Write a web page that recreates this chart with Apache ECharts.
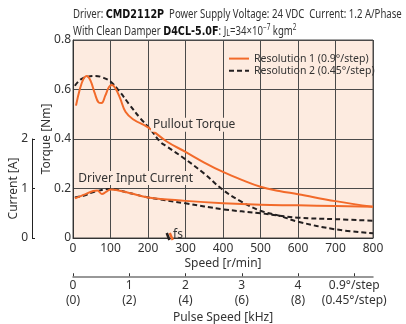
<!DOCTYPE html>
<html>
<head>
<meta charset="utf-8">
<script src="https://cdn.jsdelivr.net/npm/echarts@6/dist/echarts.min.js"></script>
<style>
  html, body { margin: 0; padding: 0; background: #fff; }
  #chart { width: 406px; height: 324px; }
</style>
</head>
<body>
<div id="chart"></div>
<script>
// speed [r/min], torque [Nm]
var torqueRes1 = [[8, 0.535], [18, 0.60], [28, 0.643], [37, 0.655], [47, 0.635], [58, 0.585], [68, 0.548], [76, 0.545],
  [86, 0.575], [96, 0.61], [104, 0.618], [113, 0.605], [125, 0.567], [140, 0.51], [160, 0.48], [200, 0.447],
  [250, 0.39], [300, 0.348], [350, 0.305], [400, 0.267], [450, 0.235], [500, 0.207], [550, 0.19], [600, 0.177],
  [700, 0.149], [800, 0.126]]
var torqueRes2 = [[5, 0.615], [20, 0.64], [40, 0.652], [60, 0.655], [80, 0.648], [100, 0.632], [125, 0.59], [150, 0.54],
  [180, 0.483], [206, 0.44], [233, 0.388], [250, 0.37], [300, 0.318], [350, 0.26], [400, 0.194], [450, 0.146],
  [500, 0.11], [550, 0.09], [600, 0.066], [700, 0.035], [800, 0.019]]
// speed [r/min], current [A]
var currentRes1 = [[5, 0.80], [28, 0.87], [54, 0.95], [65, 0.96], [77, 0.89], [88, 0.93], [100, 0.98], [150, 0.91],
  [200, 0.82], [300, 0.75], [400, 0.70], [500, 0.67], [600, 0.66], [700, 0.645], [800, 0.63]]
var currentRes2 = [[5, 0.82], [30, 0.86], [55, 0.93], [100, 0.99], [150, 0.91], [200, 0.82], [300, 0.70], [400, 0.58],
  [500, 0.50], [550, 0.45], [600, 0.41], [700, 0.38], [800, 0.35]]
// start frequency marks
var fsRes1 = [[258, 0.02], [266, -0.008]]
var fsRes2 = [[250, 0.02], [257, -0.008]]

var seriesNames = ['Resolution 1 (0.9°/step)', 'Resolution 2 (0.45°/step)']
var pulseTicks = [0, 1, 2, 3, 4, 5]

var FONT = '"Noto Sans", "Liberation Sans", sans-serif'
var ORANGE = '#f26a2a'
var BLACK = '#231f20'
var BG = '#fdebe0'
var GRIDLINE = '#4a4a4a'
var TXT = '#333'

function ts (extra) {
  return Object.assign({ fontFamily: FONT, fontWeight: 'normal', fontSize: 12, color: TXT }, extra || {})
}

// header text, squeezed horizontally like the condensed face of the original
var headerRich = {
  t: { fontFamily: FONT, fontSize: 12, fill: TXT, lineHeight: 17 },
  b: { fontFamily: '"DejaVu Sans"', fontWeight: 'bold', fontSize: 12, fill: '#111', lineHeight: 17 },
  sub: { fontFamily: FONT, fontSize: 9, fill: TXT, padding: [4, 0, 0, 0] },
  sup: { fontFamily: FONT, fontSize: 8, fill: TXT, padding: [0, 0, 7, 0] }
}

var chart = echarts.init(document.getElementById('chart'))

var option = {
  animation: false,
  graphic: [{
    type: 'text',
    x: 73,
    y: 6,
    scaleX: 0.8,
    silent: true,
    style: {
      text: '{t|Driver: }{b|CMD2112P}{t|  Power Supply Voltage: 24 VDC  Current: 1.2 A/Phase}\n' +
        '{t|With Clean Damper }{b|D4CL-5.0F}{t|: J}{sub|L}{t|=34×10}{sup|−7}{t| kgm}{sup|2}',
      rich: headerRich,
      fill: TXT,
      fontFamily: FONT,
      fontSize: 12,
      align: 'left',
      verticalAlign: 'top'
    }
  }],
  legend: {
    data: seriesNames,
    orient: 'vertical',
    left: 228,
    top: 53,
    padding: 0,
    itemWidth: 20,
    itemHeight: 14,
    itemGap: 1,
    itemStyle: { opacity: 0 },
    textStyle: ts({ fontSize: 10.5 })
  },
  grid: [
    { left: 73, right: 33, top: 40, bottom: 86, show: true, backgroundColor: BG, borderColor: GRIDLINE, borderWidth: 1 },
    { left: 32, top: 139, width: 1, height: 99 },
    { left: 73, right: 33, top: 276, height: 1 }
  ],
  xAxis: [{
    gridIndex: 0,
    type: 'value',
    min: 0,
    max: 800,
    interval: 100,
    axisLine: { show: true, lineStyle: { color: '#333' } },
    axisTick: { show: false },
    splitLine: { show: true, lineStyle: { color: GRIDLINE, width: 1 } },
    axisLabel: ts({ margin: 5 }),
    name: 'Speed [r/min]',
    nameLocation: 'middle',
    nameGap: 20,
    nameMoveOverlap: false,
    nameTextStyle: ts()
  }, {
    gridIndex: 1,
    type: 'value',
    show: false
  }, {
    gridIndex: 2,
    type: 'value',
    min: 0,
    max: 16 / 3,
    interval: 1,
    axisLine: { show: true, lineStyle: { color: '#777', width: 1.5 } },
    axisTick: { show: true, inside: true, length: 3, customValues: pulseTicks, lineStyle: { color: '#333' } },
    splitLine: { show: false },
    axisLabel: ts({
      margin: 2,
      lineHeight: 15,
      customValues: pulseTicks,
      formatter: function (v) {
        if (v >= 5) return '0.9°/step\n(0.45°/step)'
        return v + '\n(' + (v * 2) + ')'
      }
    }),
    name: 'Pulse Speed [kHz]',
    nameLocation: 'middle',
    nameGap: 35,
    nameMoveOverlap: false,
    nameTextStyle: ts()
  }],
  yAxis: [{
    gridIndex: 0,
    type: 'value',
    min: 0,
    max: 0.8,
    interval: 0.2,
    axisLine: { show: true, lineStyle: { color: '#333' } },
    axisTick: { show: false },
    splitLine: { show: true, lineStyle: { color: GRIDLINE, width: 1 } },
    axisLabel: ts({
      margin: 2,
      formatter: function (v) { return v === 0 ? '0' : v.toFixed(1) }
    }),
    name: 'Torque [Nm]',
    nameLocation: 'middle',
    nameGap: 20,
    nameMoveOverlap: false,
    nameTextStyle: ts()
  }, {
    // current scale inside the main plot (2 A = 0.4 Nm)
    gridIndex: 0,
    type: 'value',
    min: 0,
    max: 4,
    show: false
  }, {
    gridIndex: 1,
    type: 'value',
    min: 0,
    max: 2,
    interval: 1,
    axisLine: { show: true, lineStyle: { color: '#222', width: 1 } },
    axisTick: { show: true, inside: true, length: 3, lineStyle: { color: '#222' } },
    splitLine: { show: false },
    axisLabel: ts({ margin: 4 }),
    name: 'Current [A]',
    nameLocation: 'middle',
    nameGap: 12,
    nameMoveOverlap: false,
    nameTextStyle: ts()
  }, {
    gridIndex: 2,
    type: 'value',
    show: false
  }],
  series: [{
    name: seriesNames[0],
    type: 'line',
    smooth: 0.4,
    symbol: 'none',
    xAxisIndex: 0,
    yAxisIndex: 0,
    z: 4,
    lineStyle: { color: ORANGE, width: 2 },
    itemStyle: { color: ORANGE },
    data: torqueRes1,
    markPoint: {
      silent: true,
      symbol: 'rect',
      symbolSize: 1,
      itemStyle: { color: 'rgba(0,0,0,0)' },
      label: ts({
        show: true,
        position: 'inside',
        backgroundColor: BG,
        padding: [1, 2],
        formatter: function (p) { return p.name }
      }),
      data: [
        { name: 'Pullout Torque', coord: [323, 0.458] },
        { name: 'Driver Input Current', coord: [167, 0.242] },
        { name: 'fs', coord: [280, 0.013], label: { backgroundColor: 'transparent' } }
      ]
    }
  }, {
    name: seriesNames[1],
    type: 'line',
    smooth: 0.4,
    symbol: 'none',
    xAxisIndex: 0,
    yAxisIndex: 0,
    z: 3,
    lineStyle: { color: BLACK, width: 2, type: [5, 3] },
    itemStyle: { color: BLACK },
    data: torqueRes2
  }, {
    name: seriesNames[0],
    type: 'line',
    smooth: 0.4,
    symbol: 'none',
    xAxisIndex: 0,
    yAxisIndex: 1,
    z: 4,
    lineStyle: { color: ORANGE, width: 2 },
    data: currentRes1
  }, {
    name: seriesNames[1],
    type: 'line',
    smooth: 0.4,
    symbol: 'none',
    xAxisIndex: 0,
    yAxisIndex: 1,
    z: 3,
    lineStyle: { color: BLACK, width: 2, type: [5, 3] },
    data: currentRes2
  }, {
    name: 'fs1',
    type: 'line',
    symbol: 'none',
    clip: false,
    xAxisIndex: 0,
    yAxisIndex: 0,
    lineStyle: { color: ORANGE, width: 2.5 },
    data: fsRes1
  }, {
    name: 'fs2',
    type: 'line',
    symbol: 'none',
    clip: false,
    xAxisIndex: 0,
    yAxisIndex: 0,
    lineStyle: { color: BLACK, width: 2.5 },
    data: fsRes2
  }]
}

chart.setOption(option)
window.addEventListener('resize', function () {
  chart.resize()
})
</script>
</body>
</html>
